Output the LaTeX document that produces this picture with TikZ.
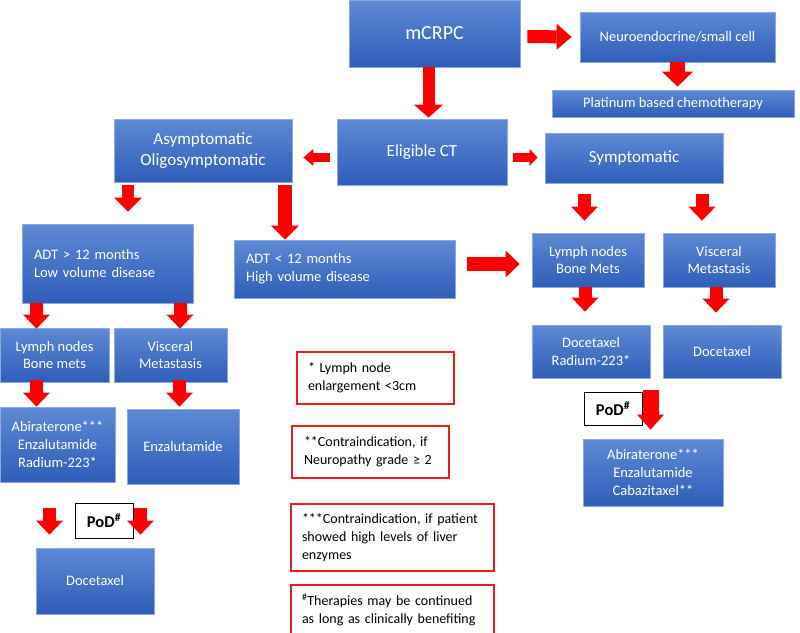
\documentclass[tikz,border=0pt]{standalone}
\usepackage{fontspec}
\setmainfont{Carlito}
\usetikzlibrary{arrows.meta,calc}
\definecolor{BoxTop}{HTML}{5E89D6}
\definecolor{BoxBottom}{HTML}{2F5DB9}
\definecolor{BoxEdge}{HTML}{8EA9DB}
\definecolor{FlowRed}{HTML}{FF0000}
\definecolor{NoteEdge}{HTML}{F01A1A}
\tikzset{
  stage/.style={draw=BoxEdge,top color=BoxTop,bottom color=BoxBottom,line width=.8pt,text=white,align=center,inner sep=0pt,font=\fontsize{17}{21}\selectfont},
  stagesmall/.style={stage,font=\fontsize{14.5}{17.7}\selectfont},
  leftstage/.style={stage,align=left,inner xsep=12pt,font=\fontsize{14.5}{18}\selectfont},
  note/.style={draw=NoteEdge,fill=white,line width=1.2pt,align=left,inner xsep=11pt,inner ysep=0pt,font=\fontsize{14}{18}\selectfont},
  pod/.style={draw=black,fill=white,line width=1pt,inner sep=0pt,font=\bfseries\fontsize{16.5}{19}\selectfont},
  flow/.style={draw=FlowRed,line width=13pt,-{Triangle[length=14pt,width=27pt,line width=0pt]}},
  thinflow/.style={draw=FlowRed,line width=9pt,-{Triangle[length=10pt,width=17pt,line width=0pt]}}
}
\begin{document}
\begin{tikzpicture}[x=1pt,y=-1pt]
    \useasboundingbox (0,0) rectangle (800,632);
    \node[stage,minimum width=171pt,minimum height=67pt,font=\fontsize{20}{24}\selectfont] (mcrpc) at (434.5,33.5) {mCRPC};
    \node[stagesmall,minimum width=195pt,minimum height=50pt] (neuro) at (677.5,37) {Neuroendocrine/small cell};
    \node[stagesmall,minimum width=242pt,minimum height=27pt] (platinum) at (673,103.5) {Platinum based chemotherapy};
    \node[stage,minimum width=170pt,minimum height=66pt] (eligible) at (422,152) {Eligible CT};
    \node[stage,minimum width=178pt,minimum height=63pt] (asym) at (203,150.5) {Asymptomatic\\Oligosymptomatic};
    \node[stage,minimum width=178pt,minimum height=50pt] (symp) at (634,158) {Symptomatic};
    \node[leftstage,text width=147pt,minimum height=79pt] (adtlong) at (107.5,263.5) {ADT > 12 months\\Low volume disease};
    \node[leftstage,text width=197pt,minimum height=58pt] (adtshort) at (344.5,269) {ADT < 12 months\\High volume disease};
    \node[stagesmall,minimum width=112pt,minimum height=54pt] (lymphR) at (588,260) {Lymph nodes\\Bone Mets};
    \node[stagesmall,minimum width=112pt,minimum height=54pt] (viscR) at (719,260) {Visceral\\Metastasis};
    \node[stagesmall,minimum width=118pt,minimum height=53pt] (docraR) at (591,351.5) {Docetaxel\\Radium-223*};
    \node[stagesmall,minimum width=118pt,minimum height=53pt] (docR) at (722,351.5) {Docetaxel};
    \node[pod,minimum width=58pt,minimum height=33pt] (podR) at (613,408.5) {PoD\textsuperscript{\#}};
    \node[stagesmall,minimum width=140pt,minimum height=67pt] (abiR) at (653,472.5) {Abiraterone***\\Enzalutamide\\Cabazitaxel**};
    \node[stagesmall,minimum width=109pt,minimum height=54pt] (lymphL) at (54.5,355) {Lymph nodes\\Bone mets};
    \node[stagesmall,minimum width=113pt,minimum height=54pt] (viscL) at (170.5,355) {Visceral\\Metastasis};
    \node[stagesmall,minimum width=115pt,minimum height=75pt] (abiL) at (57.5,444.5) {Abiraterone***\\Enzalutamide\\Radium-223*};
    \node[stagesmall,minimum width=112pt,minimum height=75pt] (enzL) at (183,446.5) {Enzalutamide};
    \node[pod,minimum width=58pt,minimum height=35pt] (podL) at (104,520.5) {PoD\textsuperscript{\#}};
    \node[stagesmall,minimum width=118pt,minimum height=66pt] (docL) at (95,581) {Docetaxel};
    \node[note,text width=135pt,minimum height=52pt] (noteA) at (375.5,378) {* Lymph node\\enlargement <3cm};
    \node[note,text width=133pt,inner xsep=12pt,minimum height=52pt] (noteB) at (370.5,452) {**Contraindication, if\\Neuropathy grade ≥ 2};
    \node[note,text width=181pt,minimum height=67pt] (noteC) at (392.5,537.5) {***Contraindication, if patient\\showed high levels of liver\\enzymes};
    \node[note,text width=181pt,minimum height=50pt] (noteD) at (392.5,610) {\textsuperscript{\#}Therapies may be continued\\as long as clinically benefiting};
    \draw[flow,shorten <=7pt,shorten >=8pt,-{Triangle[length=15pt,width=26pt,line width=0pt]}] ([yshift=-3pt]mcrpc.east) -- ([yshift=0pt]neuro.west);
    \draw[flow,line width=15pt,shorten >=3pt,-{Triangle[length=15pt,width=31pt,line width=0pt]}] (neuro.south) -- (neuro.south |- platinum.north);
    \draw[flow,line width=12pt,shorten >=1pt,-{Triangle[length=13pt,width=29pt,line width=0pt]}] ([xshift=-6pt]mcrpc.south) -- ([xshift=6.5pt]eligible.north);
    \draw[thinflow,shorten <=7pt,shorten >=11pt] ([yshift=-5.5pt]eligible.west) -- ([yshift=-7pt]asym.east);
    \draw[thinflow,shorten <=6pt,shorten >=7pt,-{Triangle[length=8pt,width=17pt,line width=0pt]}] ([yshift=-5.5pt]eligible.east) -- ([yshift=.5pt]symp.west);
    \draw[flow,line width=12pt,shorten <=3pt,shorten >=12pt,-{Triangle[length=14pt,width=28pt,line width=0pt]}] ([xshift=-75pt]asym.south) -- ([xshift=20.5pt]adtlong.north);
    \draw[flow,line width=14pt,shorten <=3pt,-{Triangle[length=14pt,width=28pt,line width=0pt]}] ([xshift=82pt]asym.south) -- ([xshift=-59.5pt]adtshort.north);
    \draw[flow,line width=14pt,shorten <=12pt,shorten >=12pt] ([yshift=5pt]adtshort.east) -- ([yshift=-4pt]lymphR.west);
    \draw[flow,shorten <=11pt,shorten >=12pt] ([xshift=-49.5pt]symp.south) -- ([xshift=-3.5pt]lymphR.north);
    \draw[flow,shorten <=11pt,shorten >=12pt] ([xshift=68pt]symp.south) -- ([xshift=-17pt]viscR.north);
    \draw[flow,shorten >=13pt] ([xshift=-3pt]lymphR.south) -- ([xshift=-6pt]docraR.north);
    \draw[flow,shorten >=12pt] ([xshift=-3pt]viscR.south) -- ([xshift=-6pt]docR.north);
    \draw[flow,line width=16pt,shorten <=12pt,shorten >=9pt,-{Triangle[length=15pt,width=27pt,line width=0pt]}] ([xshift=59.5pt]docraR.south) -- ([xshift=-2.5pt]abiR.north);
    \draw[flow,shorten >=-1pt] ([xshift=-71pt]adtlong.south) -- ([xshift=-18pt]lymphL.north);
    \draw[flow,shorten >=-1pt] ([xshift=72.5pt]adtlong.south) -- ([xshift=9.5pt]viscL.north);
    \draw[flow,shorten <=-2pt] ([xshift=-18pt]lymphL.south) -- ([xshift=-21pt]abiL.north);
    \draw[flow,shorten <=-2pt,shorten >=2pt] ([xshift=9pt]viscL.south) -- ([xshift=-3.5pt]enzL.north);
    \draw[flow,shorten <=26pt,shorten >=13pt] ([xshift=-8pt]abiL.south) -- ([xshift=-45.5pt]docL.north);
    \draw[flow,shorten <=24pt,shorten >=13pt] ([xshift=-42.5pt]enzL.south) -- ([xshift=45.5pt]docL.north);
\end{tikzpicture}
\end{document}
